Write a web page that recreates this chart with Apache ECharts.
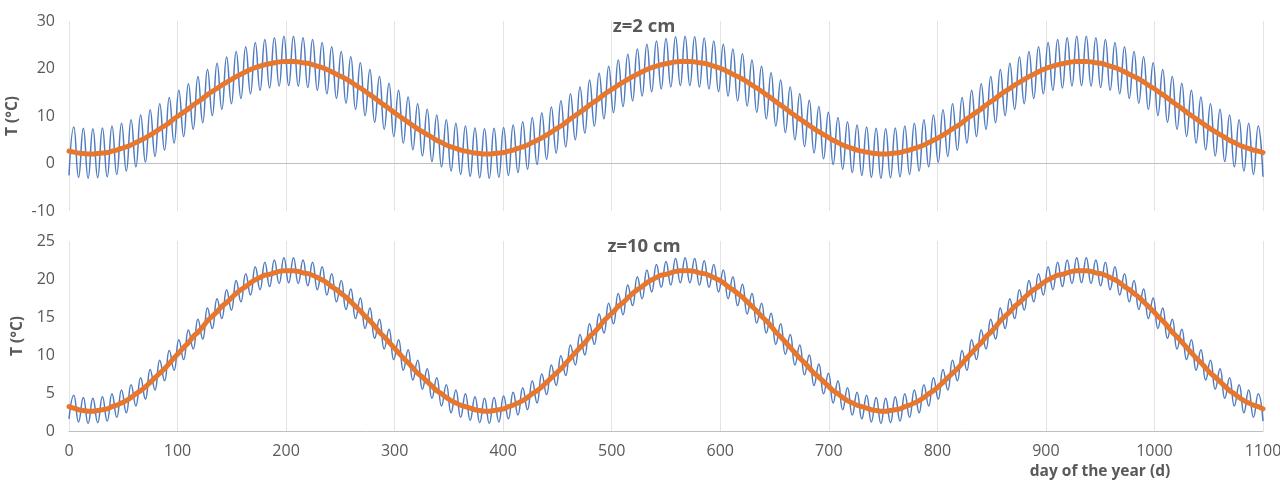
<!DOCTYPE html>
<html>
<head>
<meta charset="utf-8">
<script src="https://cdn.jsdelivr.net/npm/echarts@6/dist/echarts.min.js"></script>
<style>
  html, body { margin: 0; padding: 0; background: #ffffff; }
  #chart { width: 1280px; height: 482px; }
</style>
</head>
<body>
<div id="chart"></div>
<script>
// Soil temperature at two depths over three years (days 0-1100).
// Blue: sub-weekly oscillating temperature, given at alternating peaks/troughs.
// Orange: smoothed seasonal temperature. Both series are sampled every 4.4 days.

const sampleStep = 4.4;    // days between successive samples

const xTicks = [0, 100, 200, 300, 400, 500, 600, 700, 800, 900, 1000, 1100];
const yTicksTop = [-10, 0, 10, 20, 30];
const yTicksBottom = [0, 5, 10, 15, 20, 25];

const panelTitles = ['z=2 cm', 'z=10 cm'];
const xAxisTitle = 'day of the year (d)';
const yAxisTitle = 'T (°C)';

// z = 2 cm
const blueTop = [
  -2.5,7.7,-2.9,7.4,-3.1,7.3,-3.0,7.5,-2.8,7.9,
  -2.3,8.5,-1.6,9.2,-0.7,10.2,0.3,11.3,1.5,12.6,
  2.8,13.9,4.3,15.4,5.7,16.8,7.2,18.3,8.6,19.8,
  10.1,21.1,11.4,22.4,12.6,23.6,13.7,24.6,14.7,25.5,
  15.4,26.1,15.9,26.5,16.3,26.8,16.4,26.8,16.3,26.5,
  16.0,26.1,15.4,25.5,14.7,24.6,13.7,23.6,12.7,22.5,
  11.4,21.2,10.1,19.8,8.7,18.3,7.2,16.9,5.7,15.4,
  4.3,14.0,2.9,12.6,1.6,11.4,0.4,10.2,-0.7,9.2,
  -1.6,8.5,-2.3,
  7.9,-2.7,7.5,-3.0,7.3,-3.1,7.4,-2.9,7.6,-2.5,
  8.1,-1.9,8.8,-1.2,9.7,-0.2,10.7,0.9,11.9,2.2,
  13.2,3.5,14.7,5.0,16.1,6.4,17.6,7.9,19.0,9.4,
  20.5,10.7,21.8,12.0,23.0,13.2,24.1,14.2,25.1,15.1,
  25.8,15.7,26.3,16.1,26.7,16.4,26.8,16.4,26.7,16.1,
  26.4,15.7,25.8,15.1,25.1,14.2,24.1,13.2,23.1,12.1,
  21.8,10.8,20.5,9.4,19.1,7.9,17.6,6.5,16.1,5.0,
  14.7,3.6,13.3,2.2,12.0,1.0,10.8,-0.2,9.7,-1.2,
  8.8,-1.9,8.1,
  -2.5,7.7,-2.9,7.4,-3.1,7.3,-3.0,7.5,-2.8,7.9,
  -2.3,8.5,-1.6,9.2,-0.7,10.2,0.3,11.3,1.5,12.6,
  2.8,13.9,4.3,15.4,5.7,16.8,7.2,18.3,8.6,19.8,
  10.1,21.1,11.4,22.4,12.6,23.6,13.7,24.6,14.7,25.5,
  15.4,26.1,15.9,26.5,16.3,26.8,16.4,26.8,16.3,26.5,
  16.0,26.1,15.4,25.5,14.7,24.6,13.7,23.6,12.7,22.5,
  11.4,21.2,10.1,19.8,8.7,18.3,7.2,16.9,5.7,15.4,
  4.3,14.0,2.9,12.6,1.6,11.4,0.4,10.2,-0.7,9.2,
  -1.6,8.5,-2.3,7.9,-2.8
];
const orangeTop = [
  2.6,2.4,2.2,2.1,2.0,2.0,2.1,2.2,2.3,2.6,
  2.8,3.2,3.5,3.9,4.4,4.9,5.4,6.0,6.6,7.3,
  7.9,8.6,9.4,10.1,10.8,11.5,12.3,13.0,13.7,14.5,
  15.2,15.8,16.5,17.1,17.7,18.3,18.8,19.3,19.8,20.2,
  20.5,20.8,21.0,21.2,21.4,21.5,21.5,21.5,21.4,21.2,
  21.1,20.8,20.5,20.2,19.8,19.3,18.8,18.3,17.8,17.2,
  16.5,15.9,15.2,14.5,13.8,13.0,12.3,11.6,10.8,10.1,
  9.4,8.7,8.0,7.3,6.7,6.1,5.5,4.9,4.4,3.9,
  3.5,3.2,2.8,
  2.6,2.4,2.2,2.1,2.0,2.0,2.1,2.2,2.3,2.6,
  2.8,3.2,3.5,3.9,4.4,4.9,5.4,6.0,6.6,7.3,
  7.9,8.6,9.4,10.1,10.8,11.5,12.3,13.0,13.7,14.5,
  15.2,15.8,16.5,17.1,17.7,18.3,18.8,19.3,19.8,20.2,
  20.5,20.8,21.0,21.2,21.4,21.5,21.5,21.5,21.4,21.2,
  21.1,20.8,20.5,20.2,19.8,19.3,18.8,18.3,17.8,17.2,
  16.5,15.9,15.2,14.5,13.8,13.0,12.3,11.6,10.8,10.1,
  9.4,8.7,8.0,7.3,6.7,6.1,5.5,4.9,4.4,3.9,
  3.5,3.2,2.8,
  2.6,2.4,2.2,2.1,2.0,2.0,2.1,2.2,2.3,2.6,
  2.8,3.2,3.5,3.9,4.4,4.9,5.4,6.0,6.6,7.3,
  7.9,8.6,9.4,10.1,10.8,11.5,12.3,13.0,13.7,14.5,
  15.2,15.8,16.5,17.1,17.7,18.3,18.8,19.3,19.8,20.2,
  20.5,20.8,21.0,21.2,21.4,21.5,21.5,21.5,21.4,21.2,
  21.1,20.8,20.5,20.2,19.8,19.3,18.8,18.3,17.8,17.2,
  16.5,15.9,15.2,14.5,13.8,13.0,12.3,11.6,10.8,10.1,
  9.4,8.7,8.0,7.3,6.7,6.1,5.5,4.9,4.4,3.9,
  3.5,3.2,2.8,2.6,2.3
];

// z = 10 cm
const blueBottom = [
  1.6,4.7,1.2,4.4,1.0,4.3,1.1,4.5,1.3,4.9,
  1.8,5.4,2.4,6.1,3.3,7.0,4.2,8.1,5.4,9.3,
  6.6,10.6,8.0,12.0,9.4,13.3,10.8,14.7,12.1,16.2,
  13.5,17.4,14.8,18.6,15.9,19.8,17.0,20.7,17.9,21.6,
  18.6,22.2,19.0,22.5,19.4,22.8,19.5,22.8,19.4,22.5,
  19.1,22.2,18.6,21.6,17.9,20.7,17.0,19.8,16.0,18.7,
  14.8,17.5,13.5,16.2,12.2,14.7,10.8,13.4,9.4,12.0,
  8.0,10.7,6.7,9.3,5.5,8.2,4.3,7.0,3.3,6.1,
  2.4,5.4,1.8,
  4.9,1.4,4.5,1.1,4.3,1.0,4.4,1.2,4.6,1.6,
  5.1,2.1,5.7,2.8,6.6,3.7,7.5,4.8,8.7,6.0,
  9.9,7.3,11.3,8.7,12.7,10.0,14.1,11.4,15.4,12.9,
  16.8,14.1,18.1,15.3,19.2,16.5,20.3,17.4,21.2,18.3,
  21.9,18.9,22.3,19.2,22.7,19.5,22.8,19.5,22.7,19.2,
  22.4,18.9,21.9,18.3,21.2,17.4,20.3,16.5,19.3,15.4,
  18.1,14.2,16.8,12.9,15.5,11.4,14.1,10.1,12.7,8.7,
  11.3,7.4,10.0,6.0,8.8,4.9,7.6,3.7,6.6,2.8,
  5.7,2.1,5.1,
  1.6,4.7,1.2,4.4,1.0,4.3,1.1,4.5,1.3,4.9,
  1.8,5.4,2.4,6.1,3.3,7.0,4.2,8.1,5.4,9.3,
  6.6,10.6,8.0,12.0,9.4,13.3,10.8,14.7,12.1,16.2,
  13.5,17.4,14.8,18.6,15.9,19.8,17.0,20.7,17.9,21.6,
  18.6,22.2,19.0,22.5,19.4,22.8,19.5,22.8,19.4,22.5,
  19.1,22.2,18.6,21.6,17.9,20.7,17.0,19.8,16.0,18.7,
  14.8,17.5,13.5,16.2,12.2,14.7,10.8,13.4,9.4,12.0,
  8.0,10.7,6.7,9.3,5.5,8.2,4.3,7.0,3.3,6.1,
  2.4,5.4,1.8,4.9,1.3
];
const orangeBottom = [
  3.2,3.0,2.8,2.7,2.6,2.6,2.7,2.8,2.9,3.2,
  3.4,3.7,4.0,4.4,4.9,5.3,5.8,6.4,7.0,7.6,
  8.2,8.9,9.6,10.3,11.0,11.6,12.4,13.0,13.7,14.5,
  15.1,15.7,16.4,16.9,17.5,18.1,18.6,19.0,19.5,19.9,
  20.2,20.5,20.6,20.8,21.0,21.1,21.1,21.1,21.0,20.8,
  20.7,20.5,20.2,19.9,19.5,19.0,18.6,18.1,17.6,17.0,
  16.4,15.8,15.1,14.5,13.8,13.0,12.4,11.7,11.0,10.3,
  9.6,9.0,8.3,7.6,7.1,6.5,5.9,5.3,4.9,4.4,
  4.0,3.7,3.4,
  3.2,3.0,2.8,2.7,2.6,2.6,2.7,2.8,2.9,3.2,
  3.4,3.7,4.0,4.4,4.9,5.3,5.8,6.4,7.0,7.6,
  8.2,8.9,9.6,10.3,11.0,11.6,12.4,13.0,13.7,14.5,
  15.1,15.7,16.4,16.9,17.5,18.1,18.6,19.0,19.5,19.9,
  20.2,20.5,20.6,20.8,21.0,21.1,21.1,21.1,21.0,20.8,
  20.7,20.5,20.2,19.9,19.5,19.0,18.6,18.1,17.6,17.0,
  16.4,15.8,15.1,14.5,13.8,13.0,12.4,11.7,11.0,10.3,
  9.6,9.0,8.3,7.6,7.1,6.5,5.9,5.3,4.9,4.4,
  4.0,3.7,3.4,
  3.2,3.0,2.8,2.7,2.6,2.6,2.7,2.8,2.9,3.2,
  3.4,3.7,4.0,4.4,4.9,5.3,5.8,6.4,7.0,7.6,
  8.2,8.9,9.6,10.3,11.0,11.6,12.4,13.0,13.7,14.5,
  15.1,15.7,16.4,16.9,17.5,18.1,18.6,19.0,19.5,19.9,
  20.2,20.5,20.6,20.8,21.0,21.1,21.1,21.1,21.0,20.8,
  20.7,20.5,20.2,19.9,19.5,19.0,18.6,18.1,17.6,17.0,
  16.4,15.8,15.1,14.5,13.8,13.0,12.4,11.7,11.0,10.3,
  9.6,9.0,8.3,7.6,7.1,6.5,5.9,5.3,4.9,4.4,
  4.0,3.7,3.4,3.2,2.9
];

const FONT = '"Open Sans", "DejaVu Sans", sans-serif';
const TEXT = '#595959';
const BLUE = '#4f7cc0';
const ORANGE = '#e8772e';

const toPairs = (vals) => vals.map((v, i) => [i * sampleStep, v]);

const chart = echarts.init(document.getElementById('chart'), null, { renderer: 'canvas' });

const xBase = (gridIndex, showLabels) => ({
  type: 'value',
  gridIndex: gridIndex,
  min: xTicks[0],
  max: xTicks[xTicks.length - 1],
  interval: xTicks[1] - xTicks[0],
  axisLine: { show: true, onZero: true, lineStyle: { color: '#bfbfbf', width: 1 } },
  axisTick: { show: false },
  axisLabel: {
    show: showLabels, color: TEXT, fontSize: 16, fontFamily: FONT, margin: 12,
    formatter: (v) => String(v)
  },
  splitLine: { show: true, lineStyle: { color: '#e3e3e3', width: 1 } }
});

const yBase = (gridIndex, ticks) => ({
  type: 'value',
  gridIndex: gridIndex,
  min: ticks[0],
  max: ticks[ticks.length - 1],
  interval: ticks[1] - ticks[0],
  name: yAxisTitle,
  nameLocation: 'middle',
  nameRotate: 90,
  nameGap: 39,
  nameTextStyle: { color: TEXT, fontSize: 15.5, fontWeight: 'bold', fontFamily: FONT },
  axisLine: { show: false },
  axisTick: { show: false },
  axisLabel: { color: TEXT, fontSize: 16, fontFamily: FONT, margin: 14, formatter: (v) => String(v) },
  splitLine: { show: false }
});

const blueSeries = (idx, vals) => ({
  type: 'line',
  xAxisIndex: idx,
  yAxisIndex: idx,
  data: toPairs(vals),
  showSymbol: false,
  smooth: 0.5,
  lineStyle: { color: BLUE, width: 1.5 },
  z: 2
});

const orangeSeries = (idx, vals) => ({
  type: 'line',
  xAxisIndex: idx,
  yAxisIndex: idx,
  data: toPairs(vals),
  showSymbol: false,
  smooth: 0.3,
  lineStyle: { color: ORANGE, width: 5, cap: 'round', join: 'round' },
  z: 3
});

const gridBase = (top) => ({
  left: 69, right: 17, top: top, height: 190,
  containLabel: false,
  outerBoundsMode: 'none'
});

chart.setOption({
  animation: false,
  backgroundColor: '#ffffff',
  grid: [gridBase(21), gridBase(241)],
  xAxis: [xBase(0, false), xBase(1, true)],
  yAxis: [yBase(0, yTicksTop), yBase(1, yTicksBottom)],
  series: [
    blueSeries(0, blueTop),
    orangeSeries(0, orangeTop),
    blueSeries(1, blueBottom),
    orangeSeries(1, orangeBottom)
  ],
  graphic: [
    {
      type: 'text', x: 644, y: 27, z: 10,
      style: { text: panelTitles[0], fill: TEXT, font: 'bold 18.5px ' + FONT, textAlign: 'center', textVerticalAlign: 'middle' }
    },
    {
      type: 'text', x: 644, y: 247, z: 10,
      style: { text: panelTitles[1], fill: TEXT, font: 'bold 18.5px ' + FONT, textAlign: 'center', textVerticalAlign: 'middle' }
    },
    {
      type: 'text', x: 1100, y: 472,
      style: { text: xAxisTitle, fill: TEXT, font: 'bold 15.5px ' + FONT, textAlign: 'center', textVerticalAlign: 'middle' }
    }
  ]
});
</script>
</body>
</html>
